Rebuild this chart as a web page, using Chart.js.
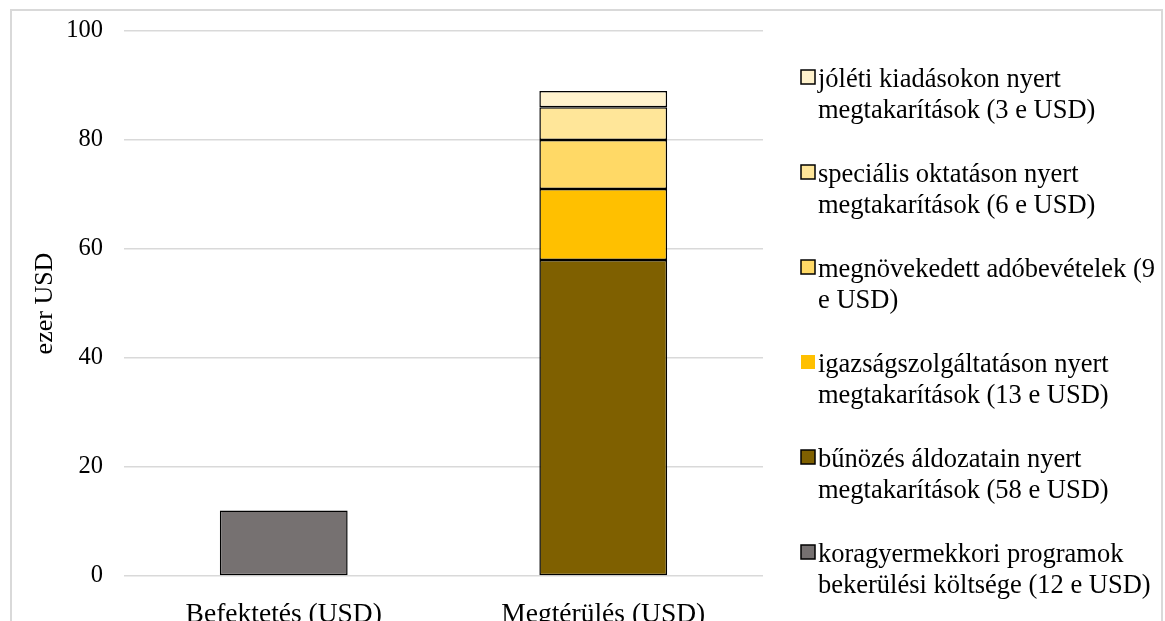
<!DOCTYPE html>
<html>
<head>
<meta charset="utf-8">
<title>Befektetés és megtérülés</title>
<script src="https://cdn.jsdelivr.net/npm/chart.js@4.4.1/dist/chart.umd.min.js"></script>
<style>
  html, body { margin: 0; padding: 0; background: #fff; }
  #wrap { width: 1165px; height: 621px; }
</style>
</head>
<body>
<div id="wrap"><canvas id="roiChart" width="1165" height="621"></canvas></div>
<script>
// categories on the x axis
const categories = ["Befektetés (USD)", "Megtérülés (USD)"];

// series, bottom of the stack first
const seriesNames = [
  "koragyermekkori programok bekerülési költsége (12 e USD)",
  "bűnözés áldozatain nyert megtakarítások (58 e USD)",
  "igazságszolgáltatáson nyert megtakarítások (13 e USD)",
  "megnövekedett adóbevételek (9 e USD)",
  "speciális oktatáson nyert megtakarítások (6 e USD)",
  "jóléti kiadásokon nyert megtakarítások (3 e USD)"
];
const investment = [12, null];
const crimeSavings = [null, 58];
const justiceSavings = [null, 13];
const taxRevenue = [null, 9];
const specialEduSavings = [null, 6];
const welfareSavings = [null, 3];

const yTicks = [0, 20, 40, 60, 80, 100];

const seriesValues = [investment, crimeSavings, justiceSavings, taxRevenue, specialEduSavings, welfareSavings];
const seriesColors = ["#767171", "#7f6000", "#ffc000", "#ffd966", "#ffe699", "#fff2cc"];
// the gold swatch has no outline in the legend
const swatchOutline = [true, true, false, true, true, true];

const FONT = "'Liberation Serif', 'Times New Roman', serif";

// light frame around the whole chart
const framePlugin = {
  id: "frame",
  beforeDraw(chart) {
    const ctx = chart.ctx;
    ctx.save();
    ctx.fillStyle = "#fff";
    ctx.fillRect(0, 0, chart.width, chart.height);
    ctx.strokeStyle = "#d9d9d9";
    ctx.lineWidth = 2;
    ctx.strokeRect(11, 10, 1151, 660);
    ctx.restore();
  }
};

// legend on the right, top series first, labels wrapped to two lines
const sideLegend = {
  id: "sideLegend",
  afterDraw(chart) {
    const ctx = chart.ctx;
    const x0 = 801, textX = 818, maxW = 340;
    const firstBase = 87, step = 95, lineH = 31;
    ctx.save();
    ctx.font = "26.5px " + FONT;
    ctx.textBaseline = "alphabetic";
    const order = chart.data.datasets.map((d, i) => i).reverse();
    order.forEach((di, row) => {
      const ds = chart.data.datasets[di];
      const base = firstBase + row * step;
      // swatch
      ctx.fillStyle = ds.backgroundColor;
      ctx.fillRect(x0, base - 17, 14, 14);
      if (swatchOutline[di]) {
        ctx.strokeStyle = "#000";
        ctx.lineWidth = 1.5;
        ctx.strokeRect(x0, base - 17, 14, 14);
      }
      // wrapped label
      const words = ds.label.split(" ");
      const lines = [];
      let cur = "";
      words.forEach(w => {
        const t = cur ? cur + " " + w : w;
        if (ctx.measureText(t).width > maxW && cur) {
          lines.push(cur);
          cur = w;
        } else {
          cur = t;
        }
      });
      lines.push(cur);
      ctx.fillStyle = "#000";
      lines.forEach((ln, k) => ctx.fillText(ln, textX, base + k * lineH));
    });
    ctx.restore();
  }
};

new Chart(document.getElementById("roiChart"), {
  type: "bar",
  data: {
    labels: categories,
    datasets: seriesNames.map((name, i) => ({
      label: name,
      data: seriesValues[i],
      backgroundColor: seriesColors[i],
      borderColor: "#000",
      borderWidth: 1.5,
      borderSkipped: false,
      categoryPercentage: 1.0,
      barPercentage: 0.4
    }))
  },
  options: {
    responsive: false,
    animation: false,
    layout: { padding: { top: 31, right: 402, bottom: 0, left: 0 } },
    plugins: {
      legend: { display: false },
      tooltip: { enabled: false }
    },
    scales: {
      x: {
        stacked: true,
        grid: { display: false },
        border: { display: false },
        ticks: { color: "#000", font: { family: FONT, size: 27.5 }, padding: 14, maxRotation: 0 },
        afterFit(scale) { scale.height = 45; }
      },
      y: {
        stacked: true,
        min: 0,
        max: 100,
        afterBuildTicks(scale) { scale.ticks = yTicks.map(v => ({ value: v })); },
        grid: { color: "#d9d9d9", lineWidth: 1.5, drawTicks: false },
        border: { display: false },
        ticks: { color: "#000", font: { family: FONT, size: 24.5 }, padding: 21 },
        title: {
          display: true,
          text: "ezer USD",
          color: "#000",
          font: { family: FONT, size: 26 },
          padding: { top: 30, bottom: 0 }
        },
        afterFit(scale) {
          scale.width = 124;
          scale.paddingTop = 0;
          scale.paddingBottom = 0;
        }
      }
    }
  },
  plugins: [framePlugin, sideLegend]
});
</script>
</body>
</html>
